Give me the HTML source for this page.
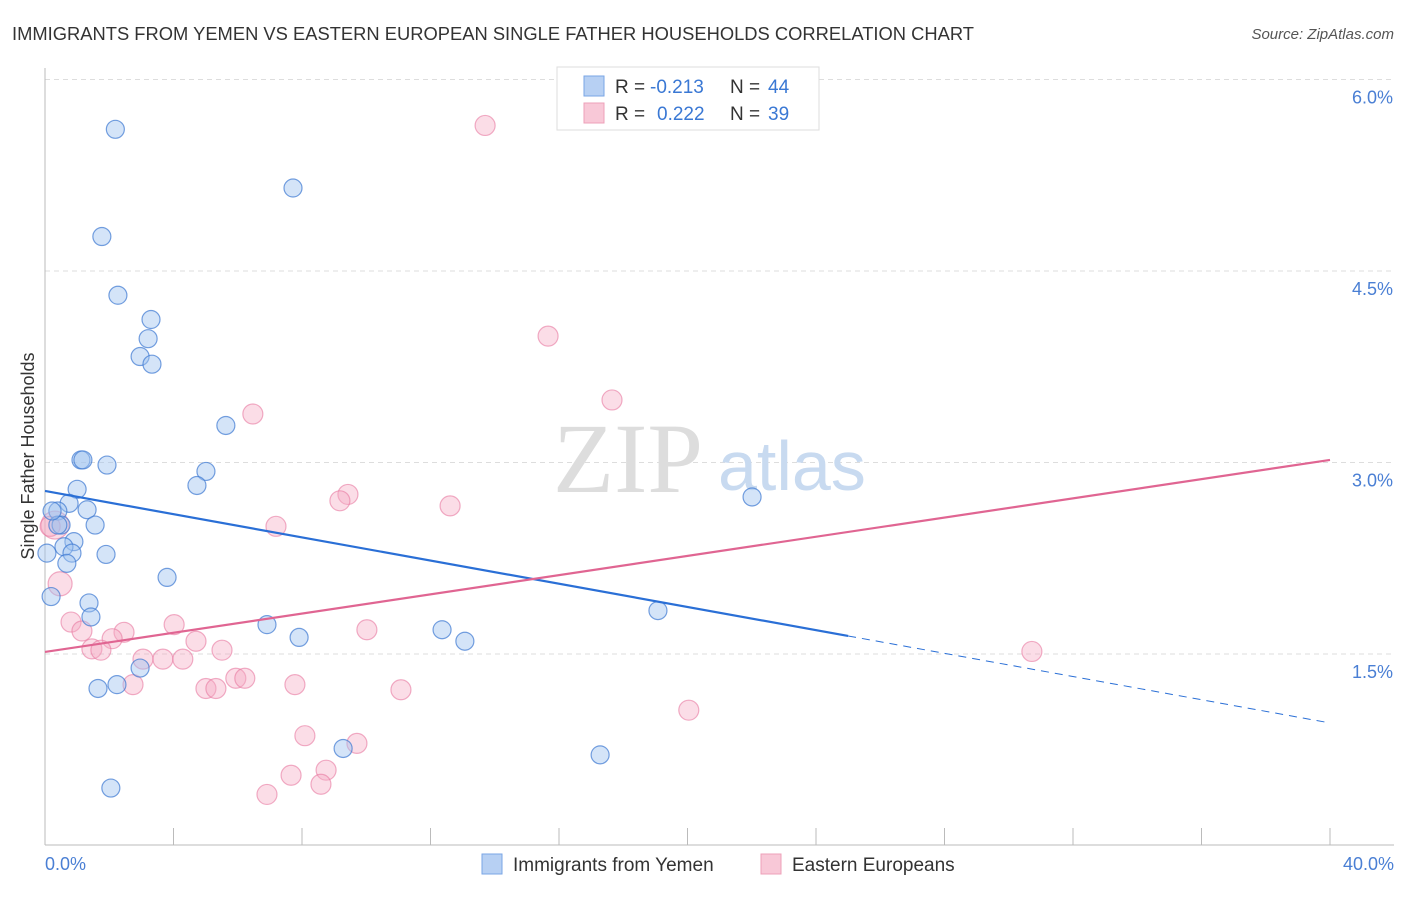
<!DOCTYPE html>
<html><head><meta charset="utf-8"><style>
body{margin:0;background:#fff;font-family:"Liberation Sans",sans-serif}
</style></head><body>
<svg width="1406" height="892" xmlns="http://www.w3.org/2000/svg">
<text x="12" y="40" font-size="18" fill="#333" textLength="962" lengthAdjust="spacingAndGlyphs">IMMIGRANTS FROM YEMEN VS EASTERN EUROPEAN SINGLE FATHER HOUSEHOLDS CORRELATION CHART</text>
<text x="1394" y="39" font-size="15" fill="#555" font-style="italic" text-anchor="end">Source: ZipAtlas.com</text>
<text x="34" y="456" font-size="18" fill="#333" transform="rotate(-90 34 456)" text-anchor="middle">Single Father Households</text>
<g id="grid"></g>
<line x1="45" y1="68" x2="45" y2="845" stroke="#bbb"/>
<line x1="45" y1="845" x2="1394" y2="845" stroke="#bbb"/>
<text x="553" y="492" font-size="100" fill="#ddd" font-family="Liberation Serif,serif">ZIP</text>
<text x="718" y="490" font-size="70" fill="#c8daf0">atlas</text>
<g id="pts"></g>
<g id="lines"></g>
<text x="45" y="870" font-size="18" fill="#4a7fd4">0.0%</text>
<text x="1394" y="870" font-size="18" fill="#4a7fd4" text-anchor="end">40.0%</text>
<g>
<rect x="557" y="67" width="262" height="63" fill="#fff" stroke="#ddd"/>
<rect x="584" y="76" width="20" height="20" fill="#b7d0f3" stroke="#7aa6e6"/>
<rect x="584" y="103" width="20" height="20" fill="#f8c8d7" stroke="#eea0b8"/>
<text x="615" y="93" font-size="19" fill="#333">R =</text>
<text x="650" y="93" font-size="19" fill="#3a78d4">-0.213</text>
<text x="730" y="93" font-size="19" fill="#333">N =</text>
<text x="768" y="93" font-size="19" fill="#3a78d4">44</text>
<text x="615" y="120" font-size="19" fill="#333">R =</text>
<text x="657" y="120" font-size="19" fill="#3a78d4">0.222</text>
<text x="730" y="120" font-size="19" fill="#333">N =</text>
<text x="768" y="120" font-size="19" fill="#3a78d4">39</text>
</g>
<g><rect x="482" y="854" width="20" height="20" fill="#b7d0f3" stroke="#7aa6e6"/><text x="513" y="871" font-size="19" fill="#333">Immigrants from Yemen</text></g>
<g><rect x="761" y="854" width="20" height="20" fill="#f8c8d7" stroke="#eea0b8"/><text x="792" y="871" font-size="19" fill="#333">Eastern Europeans</text></g>
</svg>
<script>
const yTicks=[1.5,3.0,4.5,6.0];
const yTickLabels=["1.5%","3.0%","4.5%","6.0%"];
const xTicks=[0,4,8,12,16,20,24,28,32,36,40];
const yemenX=[2.19,7.72,1.77,2.27,3.30,3.21,2.96,3.33,5.63,1.12,1.18,1.93,5.01,4.73,1.00,0.75,0.40,1.31,0.50,1.56,0.90,0.59,0.84,0.06,1.90,0.68,3.80,0.19,1.37,1.43,6.91,7.91,12.36,13.07,19.08,22.01,2.96,2.24,1.65,9.28,17.28,2.05,0.40,0.22];
const yemenY=[5.61,5.15,4.77,4.31,4.12,3.97,3.83,3.77,3.29,3.02,3.02,2.98,2.93,2.82,2.79,2.68,2.62,2.63,2.51,2.51,2.38,2.34,2.29,2.29,2.28,2.21,2.10,1.95,1.90,1.79,1.73,1.63,1.69,1.60,1.84,2.73,1.39,1.26,1.23,0.76,0.71,0.45,2.51,2.62];
const eastX=[13.70,15.66,17.65,6.47,9.43,9.18,12.61,7.19,0.31,0.47,0.81,1.15,2.46,4.02,2.09,4.70,1.46,1.74,3.67,3.05,4.29,5.51,2.74,5.01,5.32,5.94,6.22,7.78,10.02,11.08,20.04,8.09,9.71,8.75,7.66,8.59,6.91,30.72,0.16];
const eastY=[5.64,3.99,3.49,3.38,2.75,2.70,2.66,2.50,2.51,2.05,1.75,1.68,1.67,1.73,1.62,1.60,1.54,1.53,1.46,1.46,1.46,1.53,1.26,1.23,1.23,1.31,1.31,1.26,1.69,1.22,1.06,0.86,0.80,0.59,0.55,0.48,0.40,1.52,2.50];
const eastR=[10,10,10,10,10,10,10,10,14,12,10,10,10,10,10,10,10,10,10,10,10,10,10,10,10,10,10,10,10,10,10,10,10,10,10,10,10,10,10];
const blueLine=[2.777,0.960];
const pinkLine=[1.516,3.02];
const NS="http://www.w3.org/2000/svg";
const X=v=>45+v/40*1285;
const Y=v=>654-(v-1.5)/1.5*191.5;
function mk(t,a,p){const e=document.createElementNS(NS,t);for(const k in a)e.setAttribute(k,a[k]);p.appendChild(e);return e;}
const grid=document.getElementById('grid');
yTicks.forEach((t,i)=>{
 const l=mk('line',{x1:45,x2:1394,y1:Y(t),y2:Y(t),stroke:'#ddd','stroke-dasharray':'5,4'},grid);
 
 
 const tx=mk('text',{x:1393,y:Y(t)+24,'font-size':18,fill:'#4a7fd4','text-anchor':'end'},grid);
 tx.textContent=yTickLabels[i];
 
 
});
xTicks.forEach(t=>{
 const l=mk('line',{x1:X(t),x2:X(t),y1:828,y2:845,stroke:'#bbb'},grid);
 
 
});
const pts=document.getElementById('pts');
eastX.forEach((v,i)=>{
 const c=mk('circle',{cx:X(v),cy:Y(eastY[i]),r:eastR[i],fill:'rgba(245,170,195,0.4)',stroke:'rgba(232,120,160,0.6)','stroke-width':1.2},pts);
 
 
});
yemenX.forEach((v,i)=>{
 const c=mk('circle',{cx:X(v),cy:Y(yemenY[i]),r:9,fill:'rgba(160,195,240,0.45)',stroke:'rgba(60,120,210,0.7)','stroke-width':1.2},pts);
 
 
});
const lines=document.getElementById('lines');
const by=x=>blueLine[0]+(blueLine[1]-blueLine[0])*x/40;
let l1=mk('line',{x1:X(0),y1:Y(by(0)),x2:X(25),y2:Y(by(25)),stroke:'#2a6fd6','stroke-width':2.2},lines);


let l2=mk('line',{x1:X(25),y1:Y(by(25)),x2:X(40),y2:Y(by(40)),stroke:'#2a6fd6','stroke-width':1,'stroke-dasharray':'8,6'},lines);


let l3=mk('line',{x1:X(0),y1:Y(pinkLine[0]),x2:X(40),y2:Y(pinkLine[1]),stroke:'#e06592','stroke-width':2.2},lines);


</script>
</body></html>
